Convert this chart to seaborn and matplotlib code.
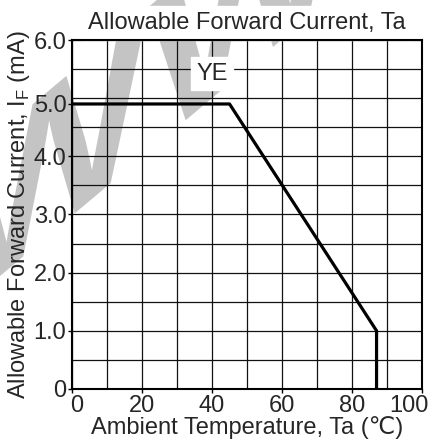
import matplotlib
matplotlib.use("Agg")
import matplotlib.pyplot as plt
import matplotlib.transforms as mtransforms
from matplotlib.textpath import TextPath
from matplotlib.patches import PathPatch
from matplotlib.font_manager import FontProperties
import seaborn as sns
import pandas as pd
import numpy as np

# Data
temp = [0, 45, 87, 87]
current = [4.9, 4.9, 1.0, 0.0]
x_ticks = [0, 20, 40, 60, 80, 100]
y_tick_pos = [0, 1, 2, 3, 4, 4.9, 6]
y_tick_labels = ["0", "1.0", "2.0", "3.0", "4.0", "5.0", "6.0"]
series_label = "YE"

sns.set_theme(style="white")
plt.rcParams['font.family'] = ['Liberation Sans', 'DejaVu Sans']

fig = plt.figure(figsize=(4.32, 4.43), dpi=100)
ax = fig.add_axes([0.1667, 0.122, 0.8103, 0.7877])
ax.set_facecolor("none")

# watermark: sheared "WWW" rising to the upper right, behind the chart
tp = TextPath((0, 0), "WWW", size=210,
              prop=FontProperties(family="Liberation Sans", weight="bold"))
wm_tr = mtransforms.Affine2D().skew_deg(0, 40).translate(-50, 125)
wm = PathPatch(tp, transform=wm_tr, facecolor="#c4c4c4", edgecolor="none",
               zorder=-10)
fig.add_artist(wm)

df = pd.DataFrame({"Ta": temp, "IF": current, "s": [series_label] * len(temp)})
sns.lineplot(data=df, x="Ta", y="IF", units="s", estimator=None, sort=False,
             color="black", lw=2.3, ax=ax, zorder=5)

ax.set_xlim(0, 100)
ax.set_ylim(0, 6)
ax.grid(False)
for xv in np.arange(0, 101, 10):
    ax.axvline(xv, color="#111111", lw=0.9, zorder=1)
for yv in np.arange(0, 6.01, 0.5):
    ax.axhline(yv, color="#111111", lw=0.9, zorder=1)

ax.set_xticks(x_ticks)
ax.set_yticks(y_tick_pos)
ax.set_yticklabels(y_tick_labels)
ax.tick_params(axis="both", which="major", labelsize=17, length=3, width=1,
               color="black", direction="out", pad=1, left=True, bottom=True)
for s in ax.spines.values():
    s.set_color("black")
    s.set_linewidth(1.5)
    s.set_zorder(6)

# nudge the first / last x tick labels like the reference
labs = ax.get_xticklabels()
off_l = mtransforms.ScaledTranslation(-13 / 100, 0, fig.dpi_scale_trans)
off_f = mtransforms.ScaledTranslation(5 / 100, 0, fig.dpi_scale_trans)
labs[-1].set_transform(labs[-1].get_transform() + off_l)
labs[0].set_transform(labs[0].get_transform() + off_f)

ax.set_xlabel("Ambient Temperature, Ta (\u2103)", fontsize=17, labelpad=0)
ax.set_ylabel("Allowable Forward Current, I$_\\mathregular{F}$ (mA)",
              fontsize=17, labelpad=1)
ax.set_title("Allowable Forward Current, Ta", fontsize=17, pad=8,
             backgroundcolor="white")
ax.text(40, 5.42, series_label, fontsize=17, ha="center", va="center",
        backgroundcolor="white", zorder=6)

fig.savefig("out.png", dpi=100)
